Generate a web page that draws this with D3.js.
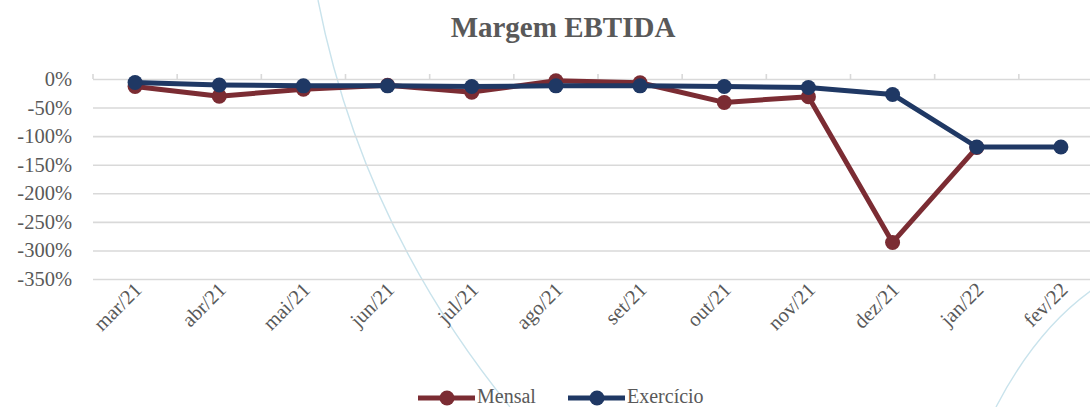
<!DOCTYPE html>
<html>
<head>
<meta charset="utf-8">
<script src="https://cdn.jsdelivr.net/npm/d3@7"></script>
<style>
  html, body { margin: 0; padding: 0; background: #fff; }
  svg { display: block; }
  text { font-family: "Liberation Serif", "DejaVu Serif", serif; fill: #595959; }
</style>
</head>
<body>
<div id="chart"></div>
<script>
// Meses do período
const categories = ["mar/21", "abr/21", "mai/21", "jun/21", "jul/21", "ago/21",
                    "set/21", "out/21", "nov/21", "dez/21", "jan/22", "fev/22"];
// Margem EBITDA mensal (%), sem valor em fev/22
const mensal = [-13, -30, -18, -11, -23, -3, -6.5, -41, -31, -286, -120, null];
// Margem EBITDA acumulada no exercício (%)
const exercicio = [-6, -10.5, -12, -12, -13, -12, -12, -13, -15, -27, -119, -119];
// Marcas do eixo de valores
const yTicks = [0, -50, -100, -150, -200, -250, -300, -350];

const W = 1090, H = 407;
const plot = { left: 93, right: 1103, top: 79, bottom: 279 };
const red = "#7b2c33", blue = "#1f3864";

const svg = d3.select("#chart").append("svg")
  .attr("width", W).attr("height", H);

// Linhas decorativas do fundo
const deco = svg.append("g").attr("fill", "none")
  .attr("stroke", "#c9e3ec").attr("stroke-width", 1.4);
deco.append("path").attr("d", "M318,0 Q362,225 510,407");
deco.append("path").attr("d", "M1092,290 Q1036,330 996,407");

const x = d3.scaleBand().domain(categories).range([plot.left, plot.right]);
const y = d3.scaleLinear().domain([-350, 0]).range([plot.bottom, plot.top]);
const cx = d => x(d) + x.bandwidth() / 2;

// Grade horizontal e rótulos do eixo Y
const yAxis = svg.append("g")
  .attr("transform", `translate(${plot.left},0)`)
  .call(d3.axisLeft(y).tickValues(yTicks)
    .tickSize(-(plot.right - plot.left))
    .tickPadding(21)
    .tickFormat(d => d + "%"));
yAxis.select(".domain").remove();
yAxis.selectAll("line").attr("stroke", "#d9d9d9").attr("stroke-width", 1.6);
yAxis.selectAll("text")
  .style("font-family", '"Liberation Serif", serif')
  .style("font-size", "20.5px").attr("fill", "#595959");

// Marcas de categoria sobre a linha de 0%
svg.append("g").selectAll("line")
  .data(d3.range(categories.length + 1))
  .join("line")
  .attr("x1", i => plot.left + i * x.step())
  .attr("x2", i => plot.left + i * x.step())
  .attr("y1", y(0)).attr("y2", y(0) - 5)
  .attr("stroke", "#d9d9d9").attr("stroke-width", 1.6);

// Rótulos das categorias, inclinados
svg.append("g").selectAll("text")
  .data(categories)
  .join("text")
  .attr("transform", d => `translate(${cx(d) + 8},${291}) rotate(-45)`)
  .attr("text-anchor", "end")
  .style("font-size", "20.5px")
  .text(d => d);

// Séries
const series = [
  { name: "Mensal", values: mensal, color: red },
  { name: "Exercício", values: exercicio, color: blue }
];
const line = d3.line()
  .defined(d => d.v !== null)
  .x(d => cx(d.c)).y(d => y(d.v));

series.forEach(s => {
  const pts = categories.map((c, i) => ({ c, v: s.values[i] }));
  const g = svg.append("g");
  g.append("path").datum(pts)
    .attr("d", line).attr("fill", "none")
    .attr("stroke", s.color).attr("stroke-width", 5)
    .attr("stroke-linejoin", "round");
  g.selectAll("circle").data(pts.filter(d => d.v !== null))
    .join("circle")
    .attr("cx", d => cx(d.c)).attr("cy", d => y(d.v))
    .attr("r", 7.5).attr("fill", s.color);
});

// Título
svg.append("text")
  .attr("x", 563).attr("y", 37)
  .attr("text-anchor", "middle")
  .style("font-size", "29px").style("font-weight", "bold")
  .text("Margem EBTIDA");

// Legenda
const legend = svg.append("g");
const legendItems = [
  { name: "Mensal", color: red, x0: 418 },
  { name: "Exercício", color: blue, x0: 568 }
];
legendItems.forEach(it => {
  legend.append("line")
    .attr("x1", it.x0).attr("x2", it.x0 + 57)
    .attr("y1", 398).attr("y2", 398)
    .attr("stroke", it.color).attr("stroke-width", 5);
  legend.append("circle")
    .attr("cx", it.x0 + 29).attr("cy", 398).attr("r", 7.5)
    .attr("fill", it.color);
  legend.append("text")
    .attr("x", it.x0 + 59).attr("y", 403)
    .style("font-size", "20px")
    .text(it.name);
});
</script>
</body>
</html>
